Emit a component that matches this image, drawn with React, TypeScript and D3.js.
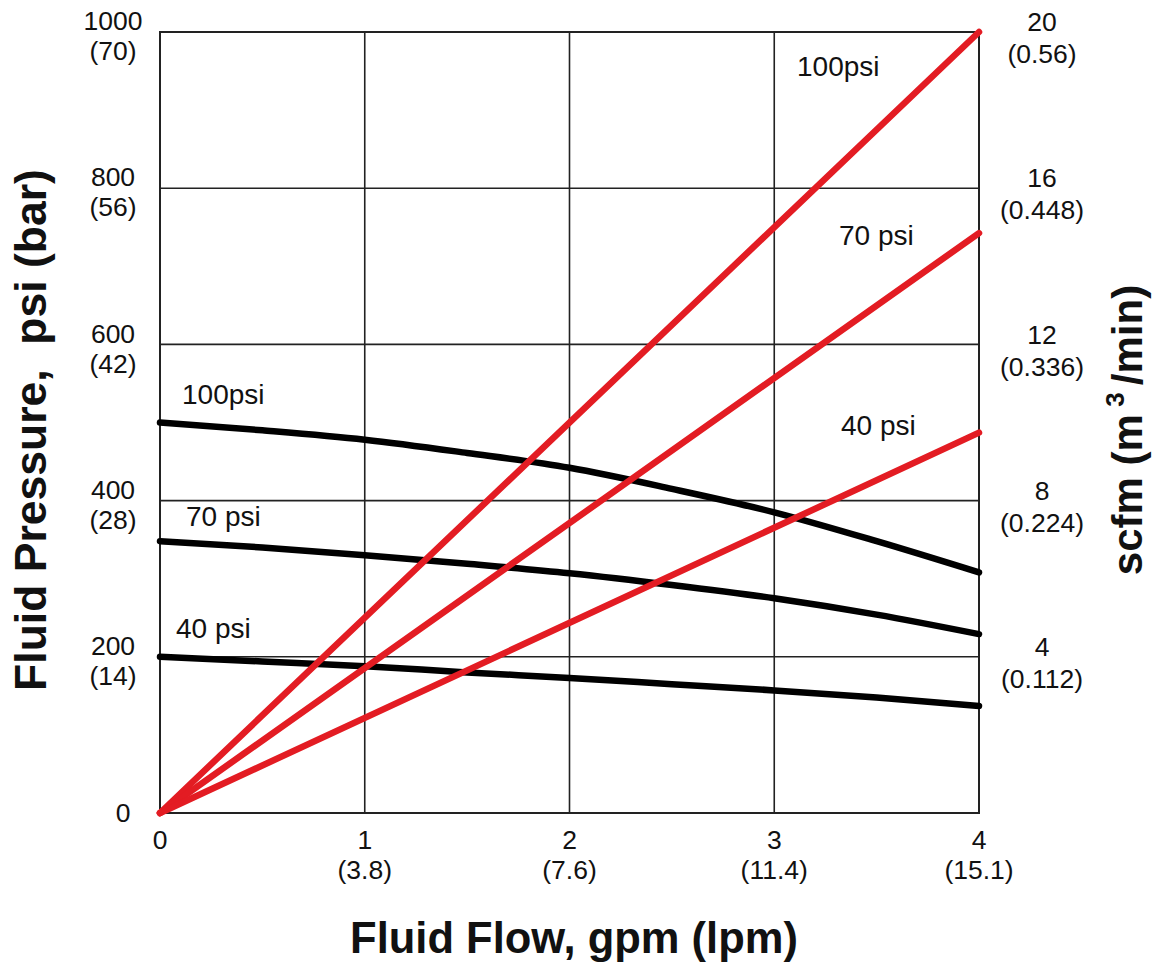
import React from "react";
import * as d3 from "d3";

// ---- data ----
const flowTicks = [0, 1, 2, 3, 4];
const flowTickLpm = ["", "(3.8)", "(7.6)", "(11.4)", "(15.1)"];
const pressureTicks = [0, 200, 400, 600, 800, 1000];
const pressureTickBar = ["", "(14)", "(28)", "(42)", "(56)", "(70)"];
const scfmTicks = [4, 8, 12, 16, 20];
const scfmTickM3 = ["(0.112)", "(0.224)", "(0.336)", "(0.448)", "(0.56)"];

// fluid pressure (psi) vs fluid flow (gpm), one per air inlet pressure
const flow = [0, 0.5, 1, 1.5, 2, 2.5, 3, 3.5, 4];
const pressure100 = [500, 490, 478, 461, 442, 415, 385, 348, 308];
const pressure70 = [348, 340, 330, 319, 307, 292, 275, 254, 229];
const pressure40 = [200, 194, 188, 180, 173, 165, 157, 148, 137];

// air consumption (scfm) vs fluid flow (gpm)
const airFlow = [0, 4];
const air100 = [0, 20];
const air70 = [0, 14.85];
const air40 = [0, 9.74];

const pressureSeries = [
  { name: "100psi", values: pressure100, lx: 182, ly: 394 },
  { name: "70 psi", values: pressure70, lx: 186, ly: 516 },
  { name: "40 psi", values: pressure40, lx: 176, ly: 628 },
];
const airSeries = [
  { name: "100psi", values: air100, lx: 797, ly: 66 },
  { name: "70 psi", values: air70, lx: 839, ly: 235 },
  { name: "40 psi", values: air40, lx: 841, ly: 425 },
];

const W = 1164;
const H = 968;
const M = { left: 160, right: 979, top: 32, bottom: 813 };
const FONT = "'Liberation Sans', Arial, Helvetica, sans-serif";
const RED = "#e31c23";
const TICK_FS = 26.5;

export default function App() {
  const x = d3.scaleLinear().domain([0, 4]).range([M.left, M.right]);
  const y = d3.scaleLinear().domain([0, 1000]).range([M.bottom, M.top]);
  const yR = d3.scaleLinear().domain([0, 20]).range([M.bottom, M.top]);

  const pLine = d3
    .line<number>()
    .x((_, i) => x(flow[i]))
    .y((d) => y(d))
    .curve(d3.curveMonotoneX);
  const aLine = d3
    .line<number>()
    .x((_, i) => x(airFlow[i]))
    .y((d) => yR(d));

  return (
    <svg
      width={W}
      height={H}
      style={{ position: "absolute", left: 0, top: 0, background: "#fff" }}
      fontFamily={FONT}
    >
      {/* grid */}
      {flowTicks.slice(1, -1).map((t) => (
        <line key={"gx" + t} x1={x(t)} x2={x(t)} y1={M.top} y2={M.bottom} stroke="#222" strokeWidth={1.6} />
      ))}
      {pressureTicks.slice(1, -1).map((t) => (
        <line key={"gy" + t} x1={M.left} x2={M.right} y1={y(t)} y2={y(t)} stroke="#222" strokeWidth={1.6} />
      ))}
      <rect
        x={M.left}
        y={M.top}
        width={M.right - M.left}
        height={M.bottom - M.top}
        fill="none"
        stroke="#222"
        strokeWidth={2}
      />

      {/* left ticks */}
      {pressureTicks.map((t, i) =>
        i === 0 ? (
          <text key={"ly" + t} x={123} y={y(t)} dy="0.35em" textAnchor="middle" fontSize={TICK_FS} fill="#111">
            {t}
          </text>
        ) : (
          <g key={"ly" + t}>
            <text x={113} y={y(t) - 11} dy="0.35em" textAnchor="middle" fontSize={TICK_FS} fill="#111">
              {t}
            </text>
            <text x={113} y={y(t) + 19} dy="0.35em" textAnchor="middle" fontSize={TICK_FS} fill="#111">
              {pressureTickBar[i]}
            </text>
          </g>
        )
      )}

      {/* right ticks */}
      {scfmTicks.map((t, i) => (
        <g key={"ry" + t}>
          <text x={1042} y={yR(t) - 10} dy="0.35em" textAnchor="middle" fontSize={TICK_FS} fill="#111">
            {t}
          </text>
          <text x={1042} y={yR(t) + 22} dy="0.35em" textAnchor="middle" fontSize={TICK_FS} fill="#111">
            {scfmTickM3[i]}
          </text>
        </g>
      ))}

      {/* bottom ticks */}
      {flowTicks.map((t, i) => (
        <g key={"bx" + t}>
          <text x={x(t)} y={840} dy="0.35em" textAnchor="middle" fontSize={TICK_FS} fill="#111">
            {t}
          </text>
          {flowTickLpm[i] && (
            <text x={x(t)} y={870} dy="0.35em" textAnchor="middle" fontSize={TICK_FS} fill="#111">
              {flowTickLpm[i]}
            </text>
          )}
        </g>
      ))}

      {/* pressure curves */}
      {pressureSeries.map((s) => (
        <path
          key={"p" + s.name}
          d={pLine(s.values) || ""}
          fill="none"
          stroke="#000"
          strokeWidth={6.5}
          strokeLinecap="round"
        />
      ))}
      {/* air consumption lines */}
      {airSeries.map((s) => (
        <path
          key={"a" + s.name}
          d={aLine(s.values) || ""}
          fill="none"
          stroke={RED}
          strokeWidth={6.5}
          strokeLinecap="round"
        />
      ))}

      {/* series labels */}
      {pressureSeries.map((s) => (
        <text key={"pl" + s.name} x={s.lx} y={s.ly} dy="0.35em" fontSize={28} fill="#111">
          {s.name}
        </text>
      ))}
      {airSeries.map((s) => (
        <text key={"al" + s.name} x={s.lx} y={s.ly} dy="0.35em" fontSize={28} fill="#111">
          {s.name}
        </text>
      ))}

      {/* axis titles */}
      <text x={574} y={938} dy="0.35em" textAnchor="middle" fontSize={43.5} fontWeight="bold" fill="#111">
        Fluid Flow, gpm (lpm)
      </text>
      <text
        transform={`translate(30,430) rotate(-90)`}
        dy="0.35em"
        textAnchor="middle"
        fontSize={44.5}
        fontWeight="bold"
        fill="#111"
        style={{ whiteSpace: "pre" }}
      >
        {"Fluid Pressure,  psi (bar)"}
      </text>
      <text
        transform={`translate(1127,430) rotate(-90)`}
        dy="0.35em"
        textAnchor="middle"
        fontSize={42}
        fontWeight="bold"
        fill="#111"
        style={{ whiteSpace: "pre" }}
      >
        <tspan>{"scfm (m"}</tspan>
        <tspan fontSize={26} dy="-0.7em">{" 3 "}</tspan>
        <tspan dy="0.45em">{"/min)"}</tspan>
      </text>
    </svg>
  );
}
